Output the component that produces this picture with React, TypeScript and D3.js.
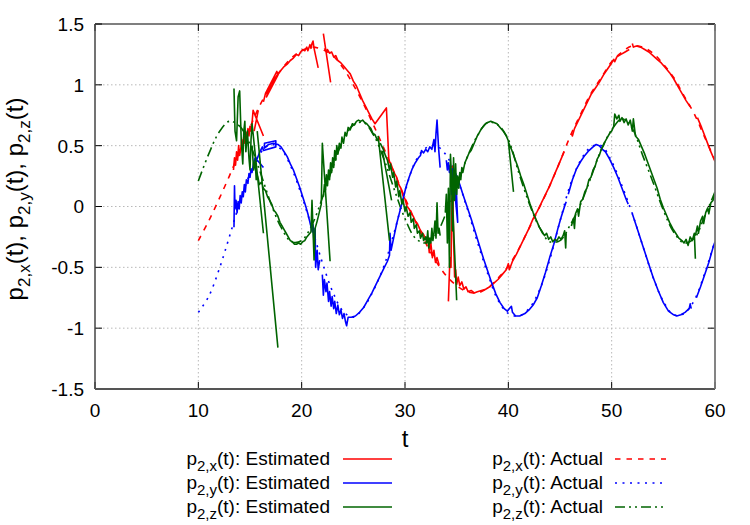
import React from 'react';
import * as d3 from 'd3';

type P = [number, number] | null;

const tGrid = [10, 11, 12, 13, 14, 15, 16, 17, 18, 19, 20, 21, 22, 23, 24, 25, 26, 27, 28, 29, 30, 31, 32, 33, 34, 35, 36, 37, 38, 39, 40, 41, 42, 43, 44, 45, 46, 47, 48, 49, 50, 51, 52, 53, 54, 55, 56, 57, 58, 59, 60];

const actualX = [-0.28, -0.12, 0.06, 0.25, 0.45, 0.65, 0.84, 0.99, 1.12, 1.22, 1.28, 1.31, 1.29, 1.24, 1.14, 1.0, 0.84, 0.66, 0.47, 0.27, 0.07, -0.12, -0.3, -0.45, -0.57, -0.65, -0.7, -0.71, -0.67, -0.59, -0.49, -0.35, -0.18, -0.01, 0.17, 0.37, 0.58, 0.76, 0.93, 1.06, 1.19, 1.27, 1.32, 1.31, 1.26, 1.17, 1.06, 0.91, 0.76, 0.57, 0.38];
const actualY = [-0.87, -0.74, -0.52, -0.25, 0.03, 0.27, 0.44, 0.51, 0.47, 0.32, 0.09, -0.18, -0.46, -0.7, -0.86, -0.91, -0.83, -0.68, -0.48, -0.2, 0.12, 0.37, 0.48, 0.5, 0.42, 0.24, -0.01, -0.29, -0.55, -0.77, -0.88, -0.9, -0.84, -0.69, -0.44, -0.12, 0.18, 0.38, 0.49, 0.5, 0.37, 0.17, -0.06, -0.32, -0.58, -0.78, -0.89, -0.88, -0.77, -0.55, -0.28];
const actualZ = [0.21, 0.43, 0.61, 0.7, 0.66, 0.51, 0.28, 0.03, -0.17, -0.29, -0.28, -0.15, 0.07, 0.32, 0.54, 0.67, 0.69, 0.58, 0.38, 0.13, -0.1, -0.26, -0.3, -0.23, -0.05, 0.16, 0.4, 0.58, 0.69, 0.67, 0.55, 0.28, 0.03, -0.17, -0.29, -0.28, -0.15, 0.02, 0.24, 0.47, 0.63, 0.72, 0.64, 0.42, 0.2, -0.03, -0.21, -0.3, -0.26, -0.08, 0.12];

const estX: P[] = [
  [13.4, 0.3], [13.5, 0.4], [13.6, 0.34], [13.7, 0.45], [13.8, 0.38], [13.9, 0.5], [14.0, 0.42], [14.1, 0.47], [14.2, 0.55], [14.3, 0.46], [14.4, 0.58], [14.5, 0.52], [14.6, 0.61], [14.7, 0.56], [14.8, 0.64], [14.9, 0.58], [15.0, 0.66], [15.1, 0.62], [15.2, 0.69], [15.3, 0.79], [16.3, 0.58], null,
  [15.4, 0.62], [15.8, 0.79], null,
  [16.3, 0.86], [16.5, 0.93], [17.6, 1.11], [17.7, 1.08], [16.6, 0.9], [16.8, 0.96], [17.1, 1.0], [17.4, 1.05], [17.7, 1.09], [18.0, 1.12], [18.3, 1.15], [18.6, 1.17], [18.9, 1.2], [19.2, 1.22], [19.5, 1.25], [19.7, 1.24], [19.9, 1.27], [20.1, 1.29], [20.3, 1.28], [20.5, 1.31], [20.6, 1.28], [20.8, 1.33], [20.9, 1.3], [21.0, 1.34], [21.1, 1.36], [21.2, 1.3], [21.6, 1.14], null,
  [22.1, 1.42], [22.8, 1.02], null,
  [22.2, 1.3], [22.4, 1.27], [22.5, 1.29], [22.7, 1.26], [22.9, 1.27], [23.1, 1.23], [23.3, 1.24], [23.5, 1.2], [23.8, 1.18], [24.1, 1.15], [24.3, 1.13], [24.5, 1.11], [24.7, 1.09], [25.0, 1.03], [25.3, 0.99], [25.6, 0.93], [25.9, 0.87], [26.2, 0.82], [26.5, 0.77], [26.8, 0.72], [27.1, 0.68], [28.2, 0.81], [28.45, 0.36], [28.6, 0.36], [28.8, 0.31], [29.0, 0.27], [29.2, 0.24], [29.4, 0.18], [29.6, 0.15], [29.8, 0.09], [30.0, 0.06], [30.2, 0.0], [30.4, -0.02], [30.6, -0.06], [30.8, -0.08], [31.0, -0.12], [31.2, -0.14], [31.4, -0.18], [31.6, -0.21], [31.8, -0.23], [32.0, -0.27], [32.2, -0.25], [32.35, -0.38], [32.5, -0.3], [32.65, -0.42], [32.8, -0.36], [32.95, -0.46], [33.1, -0.42], [33.3, -0.48], null,
  [34.2, -0.78], [34.35, -0.42], [34.45, -0.5], [34.6, 0.33], [34.7, -0.25], [34.8, -0.58], [34.9, -0.52], [35.0, -0.64], [35.15, -0.58], [35.3, -0.65], [35.5, -0.62], [35.7, -0.68], [35.9, -0.66], [36.1, -0.7], [36.4, -0.69], [36.7, -0.71], [37.0, -0.7], [37.4, -0.69], [37.8, -0.68], [38.2, -0.66], [38.6, -0.63], [39.0, -0.6], [39.4, -0.56], [39.8, -0.52], [40.0, -0.47], [40.1, -0.52], [40.4, -0.45], [40.8, -0.39], [41.2, -0.32], [41.6, -0.25], [42.0, -0.18], [42.4, -0.1], [42.8, -0.04], [43.2, 0.03], [43.6, 0.1], [44.0, 0.17], [44.4, 0.25], [44.8, 0.33], [45.2, 0.41], [45.4, 0.45], null,
  [46.1, 0.6], [46.2, 0.58], [46.4, 0.64], [46.8, 0.71], [47.2, 0.78], [47.6, 0.85], [48.0, 0.92], [48.4, 0.97], [48.8, 1.02], [49.2, 1.08], [49.6, 1.13], [50.0, 1.18], [50.2, 1.21], [50.3, 1.19], [50.5, 1.23], [50.9, 1.25], [51.3, 1.27], [51.7, 1.29], null,
  [52.0, 1.34], [52.1, 1.31], [52.4, 1.32], [52.8, 1.31], [53.2, 1.29], [53.6, 1.27], [54.0, 1.24], [54.4, 1.21], [54.8, 1.18], [55.2, 1.14], [55.6, 1.1], [56.0, 1.05], [56.4, 0.99], [56.8, 0.93], [57.2, 0.87], [57.6, 0.82], null,
  [58.3, 0.73], [58.7, 0.65], [59.1, 0.56], [59.5, 0.47], [60.0, 0.37],
];

const estY: P[] = [
  [13.45, -0.17], [13.5, 0.17], [13.55, -0.02], [13.65, 0.05], [13.75, -0.05], [13.85, 0.04], [13.95, -0.02], [14.05, 0.09], [14.15, 0.03], [14.25, 0.12], [14.35, 0.08], [14.45, 0.18], [14.55, 0.12], [14.65, 0.22], [14.8, 0.19], [14.9, 0.27], [15.0, 0.24], [15.1, 0.31], [15.2, 0.28], [15.35, 0.36], [15.5, 0.4], [16.3, 0.32], null,
  [15.6, 0.37], [15.9, 0.44], [16.2, 0.49], [16.3, 0.46], [17.5, 0.49], [17.5, 0.54], [16.4, 0.52], [16.4, 0.48], [16.8, 0.51], [17.3, 0.52], [17.7, 0.51], [18.0, 0.49], [18.3, 0.45], [18.6, 0.41], [18.9, 0.35], [19.2, 0.3], [19.5, 0.23], [19.8, 0.16], [20.1, 0.08], [20.4, 0.0], [20.6, -0.06], [20.8, -0.13], [21.0, -0.2], [21.1, -0.15], [21.2, -0.32], [21.3, -0.18], [21.35, -0.5], [21.5, -0.36], [21.6, -0.52], [21.75, -0.44], null,
  [22.0, -0.56], [22.1, -0.73], [22.2, -0.6], [22.35, -0.7], [22.45, -0.63], [22.6, -0.78], [22.7, -0.7], [22.85, -0.82], [22.95, -0.74], [23.1, -0.84], [23.2, -0.78], [23.35, -0.88], [23.5, -0.81], [23.65, -0.89], [23.8, -0.85], [23.95, -0.92], [24.1, -0.88], [24.25, -0.95], [24.35, -0.98], [24.5, -0.91], [24.8, -0.91], [25.2, -0.9], [25.6, -0.87], [26.0, -0.83], [26.4, -0.77], [26.8, -0.71], [27.2, -0.64], [27.6, -0.57], [28.0, -0.5], [28.3, -0.45], [28.5, -0.4], [28.55, -0.22], [28.65, -0.36], [28.9, -0.26], [29.2, -0.14], [29.5, -0.04], [29.8, 0.06], [30.1, 0.16], [30.4, 0.24], [30.7, 0.31], [31.0, 0.36], [31.3, 0.4], [31.5, 0.42], [31.6, 0.46], [31.8, 0.44], [32.0, 0.47], [32.2, 0.45], [32.4, 0.49], [32.6, 0.47], [32.8, 0.55], [32.9, 0.45], [33.0, 0.6], [33.1, 0.71], [33.25, 0.48], [33.4, 0.32], null,
  [34.0, 0.38], [34.1, 0.3], [34.2, 0.36], [34.3, 0.28], [34.4, 0.34], [34.5, 0.1], [34.6, 0.31], [35.1, -0.13], [34.9, 0.27], [35.0, 0.25], [35.3, 0.18], [35.6, 0.1], [36.0, 0.0], [36.4, -0.1], [36.8, -0.21], [37.2, -0.32], [37.6, -0.43], [38.0, -0.53], [38.4, -0.63], [38.8, -0.72], [39.2, -0.79], [39.6, -0.84], [39.9, -0.86], [40.3, -0.82], [40.4, -0.87], [40.7, -0.9], [41.1, -0.9], [41.6, -0.88], [42.0, -0.85], [42.4, -0.81], [42.8, -0.75], [43.2, -0.65], [43.6, -0.54], [44.0, -0.42], [44.4, -0.31], [44.8, -0.18], [45.1, -0.09], [45.4, -0.01], [45.6, 0.04], null,
  [45.8, 0.1], [46.2, 0.22], [46.6, 0.31], [47.0, 0.37], [47.4, 0.42], [47.8, 0.46], [48.2, 0.49], [48.5, 0.51], [48.8, 0.5], [49.1, 0.47], [49.4, 0.45], [49.8, 0.39], [50.2, 0.32], [50.6, 0.24], [51.0, 0.15], [51.4, 0.06], [51.6, 0.02], null,
  [52.0, -0.06], [52.5, -0.19], [53.0, -0.32], [53.5, -0.45], [54.0, -0.58], [54.5, -0.69], [55.0, -0.79], [55.5, -0.86], [56.0, -0.89], [56.3, -0.9], [56.7, -0.89], [57.1, -0.87], [57.5, -0.84], [57.6, -0.8], [57.7, -0.84], null,
  [58.2, -0.75], [58.6, -0.66], [59.0, -0.56], [59.4, -0.46], [59.8, -0.34], [60.0, -0.29],
];

const estZ: P[] = [
  [13.45, 0.97], [13.55, 0.62], [13.7, 0.54], [13.85, 0.9], [14.0, 0.95], [14.15, 0.55], [14.3, 0.35], [14.4, 0.62], [14.5, 0.7], [14.6, 0.45], [14.75, 0.62], [14.9, 0.4], [15.0, 0.3], [15.1, 0.55], [15.2, 0.68], [16.3, -0.22], null,
  [15.7, 0.62], [17.7, -1.16], null,
  [15.2, 0.5], [15.35, 0.3], [15.5, 0.38], [15.6, 0.22], [15.75, 0.25], [15.9, 0.18], [16.1, 0.2], [16.3, 0.15], [16.5, 0.13], [16.7, 0.08], [16.9, 0.05], [17.1, 0.02], [17.3, -0.03], [17.5, -0.05], [17.7, -0.08], [17.9, -0.13], [18.1, -0.16], [18.3, -0.19], [18.5, -0.22], [18.7, -0.25], [18.9, -0.28], [19.1, -0.29], [19.3, -0.31], [19.5, -0.31], [19.7, -0.3], [19.9, -0.31], [20.1, -0.29], [20.3, -0.28], [20.5, -0.25], [20.7, -0.23], [20.9, -0.21], [21.0, 0.05], [21.2, -0.44], [21.3, -0.18], [21.5, -0.12], [21.7, -0.05], [21.9, 0.02], [22.0, 0.52], [22.75, -0.45], null,
  [22.1, 0.08], [22.2, 0.18], [22.3, 0.12], [22.4, 0.26], [22.5, 0.17], [22.6, 0.3], [22.7, 0.22], [22.8, 0.36], [22.9, 0.28], [23.0, 0.4], [23.1, 0.32], [23.2, 0.46], [23.3, 0.38], [23.4, 0.5], [23.5, 0.43], [23.65, 0.52], [23.8, 0.48], [23.9, 0.57], [24.05, 0.52], [24.2, 0.61], [24.35, 0.58], [24.5, 0.65], [24.7, 0.63], [24.9, 0.68], [25.1, 0.67], [25.3, 0.7], [25.5, 0.71], [25.7, 0.7], [25.9, 0.71], [26.1, 0.69], [26.3, 0.68], [26.5, 0.66], [26.7, 0.64], [26.9, 0.6], [27.1, 0.59], [27.3, 0.55], [27.5, 0.53], null,
  [27.4, 0.58], [28.5, -0.28], null,
  [27.8, 0.46], [28.7, 0.05], null,
  [27.6, 0.52], [27.9, 0.47], [28.1, 0.42], [28.3, 0.38], [28.5, 0.3], [28.6, 0.35], [28.8, 0.24], [28.9, 0.28], [29.1, 0.16], [29.2, 0.21], [29.4, 0.08], [29.5, 0.13], [29.7, 0.02], [29.8, 0.06], [30.0, -0.04], [30.1, 0.0], [30.3, -0.08], [30.5, -0.05], [30.6, -0.13], [30.8, -0.1], [30.9, -0.18], [31.1, -0.15], [31.2, -0.22], [31.4, -0.2], [31.5, -0.26], [31.7, -0.22], [31.8, -0.28], [32.0, -0.25], [32.1, -0.3], [32.2, -0.2], [32.3, -0.34], [32.4, -0.26], [32.5, -0.3], [32.6, -0.18], [32.7, -0.28], [32.8, -0.22], [32.9, -0.12], [33.0, -0.26], [33.1, 0.03], [33.2, -0.22], [33.3, -0.18], [33.4, -0.24], null,
  [33.9, -0.05], [34.0, 0.1], [34.1, -0.3], [34.2, 0.15], [34.3, -0.5], [34.4, 0.43], [35.0, -0.77], null,
  [34.5, 0.3], [34.6, -0.2], [34.7, 0.4], [34.8, 0.05], [34.9, 0.35], [35.0, 0.1], [35.1, 0.25], [35.2, 0.15], [35.3, 0.28], [35.4, 0.22], [35.5, 0.32], [35.6, 0.28], [35.8, 0.36], [36.0, 0.4], [36.2, 0.44], [36.4, 0.46], [36.6, 0.5], [36.8, 0.54], [37.0, 0.58], [37.2, 0.61], [37.4, 0.64], [37.6, 0.66], [37.8, 0.68], [38.0, 0.69], [38.3, 0.7], [38.6, 0.69], [38.9, 0.68], [39.2, 0.65], [39.5, 0.62], [39.8, 0.58], [40.0, 0.54], [40.5, 0.12], null,
  [40.0, 0.53], [40.3, 0.47], [40.6, 0.4], [40.9, 0.33], [41.2, 0.25], [41.5, 0.18], [41.8, 0.1], [42.1, 0.02], [42.4, -0.05], [42.7, -0.11], [43.0, -0.17], [43.3, -0.21], [43.5, -0.24], [43.7, -0.22], [43.9, -0.27], [44.1, -0.25], [44.3, -0.29], [44.5, -0.27], [44.7, -0.28], [44.9, -0.25], [45.1, -0.27], [45.3, -0.24], [45.45, -0.2], [45.55, -0.34], [45.6, -0.22], null,
  [46.1, -0.16], [46.3, -0.1], [46.4, -0.18], [46.5, -0.06], [46.7, -0.02], [46.8, -0.08], [47.0, 0.04], [47.2, 0.06], [47.4, 0.12], [47.6, 0.15], [47.8, 0.22], [48.0, 0.24], [48.2, 0.3], [48.4, 0.33], [48.6, 0.39], [48.8, 0.42], [49.0, 0.47], [49.2, 0.5], [49.4, 0.54], [49.6, 0.57], [49.8, 0.6], [50.0, 0.62], [50.2, 0.66], [50.3, 0.76], [50.5, 0.72], [50.7, 0.75], [50.8, 0.7], [51.0, 0.73], [51.2, 0.69], [51.4, 0.72], [51.6, 0.67], [51.8, 0.71], [52.0, 0.62], [52.1, 0.72], [52.3, 0.58], [52.6, 0.55], [52.9, 0.49], [53.2, 0.43], [53.5, 0.36], [53.8, 0.29], [54.1, 0.22], [54.4, 0.15], [54.7, 0.06], [55.0, -0.01], [55.3, -0.07], [55.6, -0.13], [55.9, -0.18], [56.2, -0.22], [56.5, -0.26], [56.8, -0.28], [57.0, -0.3], [57.2, -0.27], [57.4, -0.32], [57.6, -0.25], [57.8, -0.28], [58.0, -0.22], [58.1, -0.43], null,
  [58.1, -0.24], [58.3, -0.16], [58.4, -0.22], [58.6, -0.12], [58.8, -0.08], [58.9, -0.14], [59.1, -0.05], [59.3, -0.01], [59.4, -0.06], [59.6, 0.03], [59.8, 0.05], [60.0, 0.11],
];

const xTicks = [0, 10, 20, 30, 40, 50, 60];
const yTicks = [-1.5, -1, -0.5, 0, 0.5, 1, 1.5];
const yTickLabels = ['-1.5', '-1', '-0.5', '0', '0.5', '1', '1.5'];
const seriesSubs = ['2,x', '2,y', '2,z'];
const seriesColors = ['#ff0000', '#0000ff', '#006400'];
const actualDash = ['5.5,6', '2,5.5', '10,4,2,4,2,4'];

const FONT = '"Liberation Sans", Arial, Helvetica, sans-serif';

function SubLabel(props: { x: number; y: number; sub: string; rest: string; fs: number; sfs: number; dy: number; anchor?: string }) {
  const { x, y, sub, rest, fs, sfs, dy, anchor } = props;
  return (
    <text x={x} y={y} fontSize={fs} fontFamily={FONT} textAnchor={anchor || 'start'} fill="#000">
      <tspan>p</tspan>
      <tspan dy={dy} fontSize={sfs}>{sub}</tspan>
      <tspan dy={-dy}>{rest}</tspan>
    </text>
  );
}

export default function App() {
  const W = 750, H = 525;
  const L = 95, R = 715, T = 24, B = 389;
  const x = d3.scaleLinear().domain([0, 60]).range([L, R]);
  const y = d3.scaleLinear().domain([-1.5, 1.5]).range([B, T]);

  const lineE = d3.line<P>()
    .defined((d) => d !== null)
    .x((d) => x((d as [number, number])[0]))
    .y((d) => y((d as [number, number])[1]));
  const lineA = d3.line<number>()
    .x((_, i) => x(tGrid[i]))
    .y((d) => y(d))
    .curve(d3.curveCatmullRom);

  const estimated = [estX, estY, estZ];
  const actual = [actualX, actualY, actualZ];
  const tick = 7;

  return (
    <svg width={W} height={H} viewBox={`0 0 ${W} ${H}`} style={{ position: 'absolute', left: 0, top: 0, background: '#fff' }}>
      <rect x={0} y={0} width={W} height={H} fill="#fff" />
      <defs>
        <clipPath id="plotClip">
          <rect x={L} y={T} width={R - L} height={B - T} />
        </clipPath>
      </defs>
      {xTicks.filter((t) => t > 0 && t < 60).map((t) => (
        <line key={'gx' + t} x1={x(t)} x2={x(t)} y1={T} y2={B} stroke="#b8b8b8" strokeWidth={1} strokeDasharray="1.5,2.5" />
      ))}
      {yTicks.filter((v) => v > -1.5 && v < 1.5).map((v) => (
        <line key={'gy' + v} x1={L} x2={R} y1={y(v)} y2={y(v)} stroke="#b8b8b8" strokeWidth={1} strokeDasharray="1.5,2.5" />
      ))}
      {xTicks.map((t) => (
        <g key={'tx' + t}>
          <line x1={x(t)} x2={x(t)} y1={B} y2={B - tick} stroke="#000" strokeWidth={1} />
          <line x1={x(t)} x2={x(t)} y1={T} y2={T + tick} stroke="#000" strokeWidth={1} />
          <text x={x(t)} y={B + 28} fontSize={19} fontFamily={FONT} textAnchor="middle" fill="#000">{t}</text>
        </g>
      ))}
      {yTicks.map((v, i) => (
        <g key={'ty' + v}>
          <line x1={L} x2={L + tick} y1={y(v)} y2={y(v)} stroke="#000" strokeWidth={1} />
          <line x1={R} x2={R - tick} y1={y(v)} y2={y(v)} stroke="#000" strokeWidth={1} />
          <text x={84} y={y(v)} dy="0.36em" fontSize={19} fontFamily={FONT} textAnchor="end" fill="#000">{yTickLabels[i]}</text>
        </g>
      ))}
      <g clipPath="url(#plotClip)" fill="none" strokeLinejoin="round">
        {actual.map((s, i) => (
          <path key={'a' + i} d={lineA(s) || ''} stroke={seriesColors[i]} strokeWidth={1.6} strokeDasharray={actualDash[i]} />
        ))}
        {estimated.map((s, i) => (
          <path key={'e' + i} d={lineE(s) || ''} stroke={seriesColors[i]} strokeWidth={1.6} />
        ))}
      </g>
      <line x1={L} x2={R} y1={T} y2={T} stroke="#000" strokeWidth={1.2} />
      <line x1={L} x2={L} y1={T} y2={B} stroke="#444" strokeWidth={1.5} />
      <line x1={L} x2={R} y1={B} y2={B} stroke="#555" strokeWidth={1.8} />
      <line x1={R} x2={R} y1={T} y2={B} stroke="#777" strokeWidth={1.8} />
      <text x={(L + R) / 2} y={447} fontSize={24} fontFamily={FONT} textAnchor="middle" fill="#000">t</text>
      <text transform="translate(23,199) rotate(-90)" fontSize={24} fontFamily={FONT} textAnchor="middle" fill="#000">
        {seriesSubs.map((s, i) => (
          <React.Fragment key={'yl' + i}>
            <tspan>{(i > 0 ? ', ' : '') + 'p'}</tspan>
            <tspan dy={7} fontSize={17}>{s}</tspan>
            <tspan dy={-7}>(t)</tspan>
          </React.Fragment>
        ))}
      </text>
      {seriesSubs.map((s, i) => {
        const ly = 465 + i * 24;
        return (
          <g key={'lg' + i}>
            <SubLabel x={330} y={ly} sub={s} rest="(t): Estimated" fs={19} sfs={15} dy={6} anchor="end" />
            <line x1={343} x2={392} y1={ly - 6} y2={ly - 6} stroke={seriesColors[i]} strokeWidth={1.6} />
            <SubLabel x={603} y={ly} sub={s} rest="(t): Actual" fs={19} sfs={15} dy={6} anchor="end" />
            <line x1={615} x2={666} y1={ly - 6} y2={ly - 6} stroke={seriesColors[i]} strokeWidth={1.6} strokeDasharray={actualDash[i]} />
          </g>
        );
      })}
    </svg>
  );
}
